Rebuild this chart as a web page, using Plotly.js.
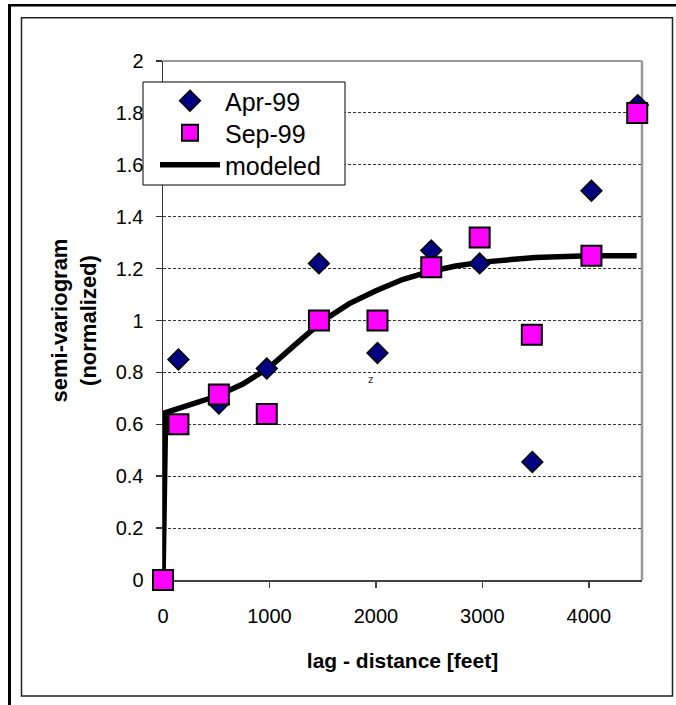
<!DOCTYPE html>
<html>
<head>
<meta charset="utf-8">
<script src="https://cdn.plot.ly/plotly-3.0.1.min.js"></script>
<style>
  html, body { margin: 0; padding: 0; background: #fff; }
  #chart { width: 676px; height: 705px; }
</style>
</head>
<body>
<div id="chart"></div>
<script>
// ---- data ----
const lagApr  = [145, 525, 975, 1465, 2015, 2520, 2975, 3470, 4025, 4460];
const semiApr = [0.85, 0.68, 0.815, 1.22, 0.875, 1.27, 1.22, 0.455, 1.50, 1.83];

const lagSep  = [0, 145, 525, 975, 1465, 2015, 2520, 2975, 3465, 4025, 4455];
const semiSep = [0, 0.60, 0.715, 0.64, 1.0, 1.0, 1.205, 1.32, 0.945, 1.25, 1.80];

const lagModel  = [0, 25, 250, 500, 750, 1000, 1250, 1500, 1750, 2000, 2250, 2500, 2750, 3000, 3500, 4000, 4450];
const semiModel = [0, 0.645, 0.675, 0.708, 0.755, 0.82, 0.91, 0.998, 1.065, 1.115, 1.158, 1.188, 1.21, 1.225, 1.243, 1.25, 1.25];

const yTicks = [0, 0.2, 0.4, 0.6, 0.8, 1, 1.2, 1.4, 1.6, 1.8, 2];
const xTicks = [0, 1000, 2000, 3000, 4000];
const seriesNames = ['Apr-99', 'Sep-99', 'modeled'];

// ---- layout geometry (pixels) ----
const W = 676, H = 705;
const M = { l: 163, r: 34, t: 61, b: 125 };
const pw = W - M.l - M.r, ph = H - M.t - M.b;
const px = x => (x - M.l) / pw;
const py = y => (H - M.b - y) / ph;

const FONT = 'Liberation Sans, Arial, sans-serif';

const traces = [
  {
    x: lagModel, y: semiModel, name: seriesNames[2], type: 'scatter', mode: 'lines',
    line: { color: '#000', width: 5.5 }, legend: 'legend3', cliponaxis: false
  },
  {
    x: lagApr, y: semiApr, name: seriesNames[0], type: 'scatter', mode: 'markers',
    marker: { symbol: 'diamond', size: 16, color: '#000080', line: { color: '#000', width: 1.5 } },
    legend: 'legend', cliponaxis: false
  },
  {
    x: lagSep, y: semiSep, name: seriesNames[1], type: 'scatter', mode: 'markers',
    marker: { symbol: 'square', size: 20, color: '#ff00ff', line: { color: '#000', width: 2 } },
    legend: 'legend2', cliponaxis: false
  }
];

function legendAt(rowY) {
  return {
    x: px(155), y: py(rowY), xanchor: 'left', yanchor: 'middle',
    bgcolor: 'rgba(0,0,0,0)', borderwidth: 0,
    font: { family: FONT, size: 25, color: '#000' },
    itemwidth: 60
  };
}

const layout = {
  width: W, height: H,
  margin: M,
  paper_bgcolor: '#fff',
  plot_bgcolor: 'rgba(0,0,0,0)',
  font: { family: FONT, color: '#000', size: 20 },
  showlegend: true,
  legend: legendAt(101),
  legend2: legendAt(133),
  legend3: legendAt(165),
  xaxis: {
    range: [0, 4500], tickvals: xTicks, ticktext: xTicks.map(String),
    showgrid: false, zeroline: false, layer: 'below traces',
    showline: true, linecolor: '#404040', linewidth: 1.5,
    ticks: 'outside', ticklen: 6, tickcolor: '#404040', tickwidth: 1.5,
    tickfont: { family: FONT, size: 20, color: '#000' },
    ticklabelstandoff: 11,
    title: { text: 'lag - distance [feet]', font: { family: FONT, size: 21, color: '#000', weight: 'bold' }, standoff: 28 }
  },
  yaxis: {
    range: [0, 2], tickvals: yTicks, ticktext: yTicks.map(String),
    showgrid: true, gridcolor: '#333', gridwidth: 1, griddash: '3px,2px',
    zeroline: false, layer: 'below traces',
    showline: true, linecolor: '#333', linewidth: 1.5,
    ticks: 'outside', ticklen: 6, tickcolor: '#333', tickwidth: 1.5,
    tickfont: { family: FONT, size: 20, color: '#000' },
    ticklabelstandoff: 8,
    title: { text: 'semi-variogram<br>(normalized)', font: { family: FONT, size: 22, color: '#000', weight: 'bold' }, standoff: 13 }
  },
  annotations: [
    { x: 1950, y: 0.775, xref: 'x', yref: 'y', text: 'z', showarrow: false,
      font: { family: FONT, size: 11, color: '#333' } }
  ],
  shapes: [
    // plot-area border (top and right, grey)
    { type: 'line', xref: 'paper', yref: 'paper', x0: 0, x1: 1, y0: 1, y1: 1, layer: 'between',
      line: { color: '#999', width: 2 } },
    { type: 'line', xref: 'paper', yref: 'paper', x0: 1, x1: 1, y0: 0, y1: 1, layer: 'between',
      line: { color: '#999', width: 2.5 } },
    // legend box
    { type: 'rect', xref: 'paper', yref: 'paper', x0: px(143), x1: px(345), y0: py(185), y1: py(82),
      fillcolor: '#fff', line: { color: '#000', width: 1 }, layer: 'above' },
    // inner chart frame
    { type: 'rect', xref: 'paper', yref: 'paper', x0: px(21.5), x1: px(672.5), y0: py(696), y1: py(17.8),
      line: { color: '#222', width: 1.5 }, layer: 'above' },
    // outer frame (top and left visible)
    { type: 'line', xref: 'paper', yref: 'paper', x0: px(8), x1: px(680), y0: py(5.3), y1: py(5.3),
      line: { color: '#000', width: 2.5 }, layer: 'above' },
    { type: 'line', xref: 'paper', yref: 'paper', x0: px(9.5), x1: px(9.5), y0: py(4), y1: py(710),
      line: { color: '#000', width: 3 }, layer: 'above' }
  ]
};

Plotly.newPlot('chart', traces, layout, { displayModeBar: false, staticPlot: true });
</script>
</body>
</html>
